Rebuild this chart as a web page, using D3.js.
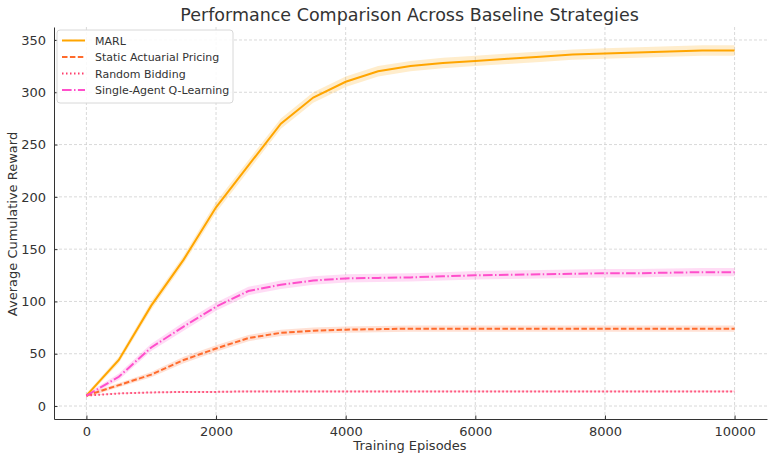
<!DOCTYPE html>
<html><head><meta charset="utf-8">
<script src="https://cdn.jsdelivr.net/npm/d3@7"></script>
<style>body{margin:0;background:#fff;}svg{display:block;font-family:"DejaVu Sans",sans-serif;}</style>
</head><body>
<svg id="c" width="771" height="453"></svg>
<script>
const episodes = [0,500,1000,1500,2000,2500,3000,3500,4000,4500,5000,5500,6000,6500,7000,7500,8000,8500,9000,9500,10000];
const marl    = [10,44,96,140,190,230,270,295,310,320,325,328,330,332,334,336,337,338,339,340,340];
const staticP = [10,20,30,44,55,65,70,72,73,73.5,74,74,74,74,74,74,74,74,74,74,74];
const random  = [10,12,13,13.5,13.5,14,14,14,14,14,14,14,14,14,14,14,14,14,14,14,14];
const singleQ = [10,28,56,76,95,110,116,120,122,122.5,123,124,125,125.5,126,126.5,127,127,127.5,128,128];
const bandMarl = [2,3,4,4,5,5,5,5,5,5,5,5,5,5,5,5,5,5,5,5,5];
const bandStatic = [1.5,2,2.5,3,3,3,3,3,3,3,3,3,3,3,3,3,3,3,3,3,3];
const bandRandom = [0.5,0.6,0.7,0.8,0.8,0.8,0.8,0.8,0.8,0.8,0.8,0.8,0.8,0.8,0.8,0.8,0.8,0.8,0.8,0.8,0.8];
const bandSingle = [1.5,3,3.5,4,4,4,4,4,4,4,4,4,4,4,4,4,4,4,4,4,4];
const xTicks = [0,2000,4000,6000,8000,10000];
const yTicks = [0,50,100,150,200,250,300,350];

const series = [
  {name:"MARL", values:marl, band:bandMarl, color:"#FFA500", dash:null},
  {name:"Static Actuarial Pricing", values:staticP, band:bandStatic, color:"#FF6B2C", dash:"5.5,2.4"},
  {name:"Random Bidding", values:random, band:bandRandom, color:"#FF3D6B", dash:"1.5,2.5"},
  {name:"Single-Agent Q-Learning", values:singleQ, band:bandSingle, color:"#FF4FCB", dash:"9.6,2.4,1.5,2.4"}
];

const svg = d3.select("#c");
const L=54, R=767, T=27, B=419;
const x = d3.scaleLinear().domain([-500,10500]).range([L,R]);
const y = d3.scaleLinear().domain([-12.4,362.4]).range([B,T]);

// grid
const g = svg.append("g");
g.selectAll(".gx").data(xTicks).join("line")
  .attr("x1",d=>x(d)).attr("x2",d=>x(d)).attr("y1",T).attr("y2",B)
  .attr("stroke","#cfcfcf").attr("stroke-width",0.8).attr("stroke-dasharray","3,2");
g.selectAll(".gy").data(yTicks).join("line")
  .attr("y1",d=>y(d)).attr("y2",d=>y(d)).attr("x1",L).attr("x2",R)
  .attr("stroke","#cfcfcf").attr("stroke-width",0.8).attr("stroke-dasharray","3,2");

// bands & lines
const area = d3.area().x((d,i)=>x(episodes[i])).y0(d=>y(d[0])).y1(d=>y(d[1]));
const line = d3.line().x((d,i)=>x(episodes[i])).y(d=>y(d));
series.forEach(s=>{
  svg.append("path").datum(s.values.map((v,i)=>[v-s.band[i], v+s.band[i]]))
    .attr("d",area).attr("fill",s.color).attr("fill-opacity",0.2);
});
series.forEach(s=>{
  svg.append("path").datum(s.values).attr("d",line).attr("fill","none")
    .attr("stroke",s.color).attr("stroke-width",2)
    .attr("stroke-dasharray",s.dash);
});

// axes
const xa = svg.append("g").attr("transform",`translate(0,${B})`)
  .call(d3.axisBottom(x).tickValues(xTicks).tickFormat(d3.format("d")).tickSizeInner(-3.5).tickSizeOuter(0).tickPadding(8));
const ya = svg.append("g").attr("transform",`translate(${L},0)`)
  .call(d3.axisLeft(y).tickValues(yTicks).tickSizeInner(-3.5).tickSizeOuter(0).tickPadding(8));
[xa,ya].forEach(a=>{
  a.select(".domain").attr("stroke","#333").attr("stroke-width",1);
  a.selectAll(".tick line").attr("stroke","#333");
  a.selectAll("text").attr("fill","#333").style("font-size","13px").style("font-family","DejaVu Sans");
});

// labels
svg.append("text").attr("x",(L+R)/2 - 1).attr("y",21).attr("text-anchor","middle")
  .style("font-size","17.5px").attr("fill","#333").text("Performance Comparison Across Baseline Strategies");
svg.append("text").attr("x",410).attr("y",450).attr("text-anchor","middle")
  .style("font-size","13px").attr("fill","#333").text("Training Episodes");
svg.append("text").attr("transform",`translate(17,${(T+B)/2 + 1}) rotate(-90)`).attr("text-anchor","middle")
  .style("font-size","13px").attr("fill","#333").text("Average Cumulative Reward");

// legend
const lg = svg.append("g");
lg.append("rect").attr("x",57).attr("y",30).attr("width",176).attr("height",73).attr("rx",3)
  .attr("fill","#fff").attr("fill-opacity",0.85).attr("stroke","#d8d8d8");
series.forEach((s,i)=>{
  const yy = 40.5 + i*16.5;
  lg.append("line").attr("x1",62).attr("x2",85).attr("y1",yy).attr("y2",yy)
    .attr("stroke",s.color).attr("stroke-width",2).attr("stroke-dasharray",s.dash);
  lg.append("text").attr("x",95).attr("y",yy+4).style("font-size","11px").attr("fill","#333").text(s.name);
});
</script>
</body></html>
